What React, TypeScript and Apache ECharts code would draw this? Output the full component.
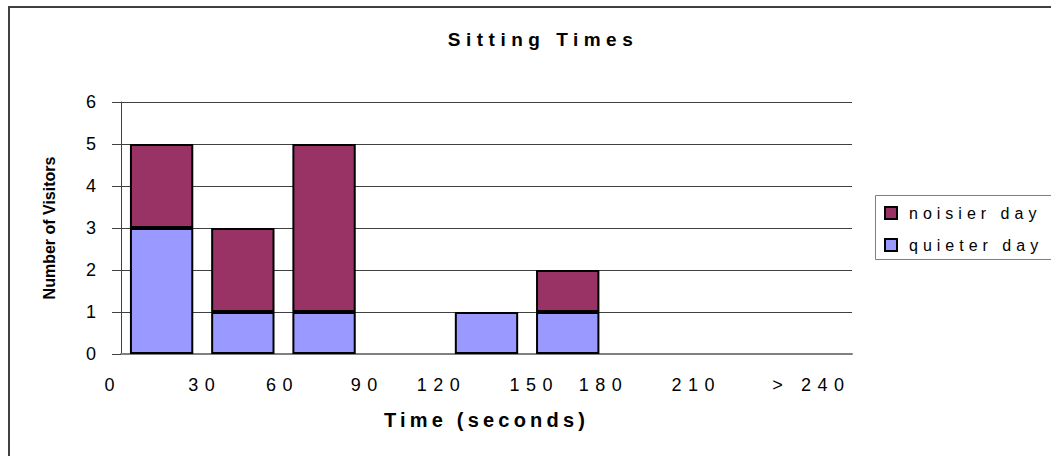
import React, { useEffect, useRef } from "react";
import * as echarts from "echarts";

// ---- data ----
const categories = ["0", "30", "60", "90", "120", "150", "180", "210", "> 240"];
const quieterDay = [3, 1, 1, 0, 1, 1, 0, 0, 0];
const noisierDay = [2, 2, 4, 0, 0, 1, 0, 0, 0];
const seriesNames = ["noisier day", "quieter day"];
const yMin = 0;
const yMax = 6;
const yInterval = 1;

// ---- style (label nudges, px to the left of category centre) ----
const labelShift = [52, 38, 41.5, 38, 45, 33.5, 45.5, 34, 0];
const FONT = '"Liberation Sans", Arial, sans-serif';
const spacing: Record<string, number> = {
  "Sitting Times": 5.5,
  "Time (seconds)": 4.2,
  "noisier day": 5,
  "quieter day": 5,
};
const tickSpacing = 6.5;

export default function App() {
  const ref = useRef<HTMLDivElement>(null);
  useEffect(() => {
    const el = ref.current!;
    const chart = echarts.init(el, undefined, { renderer: "svg" });
    const toBar = (v: number) => (v === 0 ? "-" : v);
    chart.setOption({
      animation: false,
      backgroundColor: "#fff",
      textStyle: { fontFamily: FONT },
      title: {
        text: "Sitting Times",
        left: 538,
        top: 25,
        textAlign: "center",
        textStyle: { fontSize: 19, fontWeight: "bold", color: "#000", fontFamily: FONT },
      },
      graphic: [
        {
          type: "rect",
          silent: true,
          shape: { x: 9, y: 7, width: 1200, height: 600 },
          style: { fill: "none", stroke: "#404040", lineWidth: 2 },
        },
        {
          type: "rect",
          silent: true,
          shape: { x: 875.5, y: 195.5, width: 300, height: 64 },
          style: { fill: "none", stroke: "#808080", lineWidth: 1 },
        },
      ],
      legend: {
        data: seriesNames,
        orient: "vertical",
        left: 875,
        top: 195,
        padding: [10, 20, 7, 9],
        itemGap: 16,
        itemWidth: 12,
        itemHeight: 12,
        borderWidth: 0,
        icon: "rect",
        itemStyle: { borderColor: "#000", borderWidth: 2 },
        textStyle: { fontSize: 16, color: "#000", fontFamily: FONT, padding: [0, 0, 0, 7] },
      },
      grid: { left: 121, right: 199, top: 102, bottom: 102 },
      xAxis: {
        type: "category",
        data: categories.map((c, i) => ({
          value: c,
          textStyle: { padding: [0, labelShift[i] * 2, 0, 0] },
        })),
        name: "Time (seconds)",
        nameLocation: "middle",
        nameGap: 56,
        nameTextStyle: { fontSize: 20, fontWeight: "bold", color: "#000", fontFamily: FONT },
        axisLine: { lineStyle: { color: "#808080", width: 2 } },
        axisTick: { length: 7, lineStyle: { color: "#808080", width: 1 } },
        axisLabel: { interval: 0, fontSize: 18, color: "#000", margin: 22, fontFamily: FONT },
        splitLine: { show: false },
      },
      yAxis: {
        type: "value",
        min: yMin,
        max: yMax,
        interval: yInterval,
        name: "Number of Visitors",
        nameLocation: "middle",
        nameGap: 64,
        nameTextStyle: { fontSize: 16, fontWeight: "bold", color: "#000", fontFamily: FONT },
        axisLine: { show: true, lineStyle: { color: "#404040", width: 1 } },
        axisTick: { show: true, length: 9, lineStyle: { color: "#404040", width: 1 } },
        axisLabel: { fontSize: 18, color: "#000", margin: 25, fontFamily: FONT },
        splitLine: { show: true, lineStyle: { color: "#404040", width: 1 } },
      },
      series: [
        {
          name: "quieter day",
          type: "bar",
          stack: "visitors",
          barWidth: "78%",
          data: quieterDay.map(toBar),
          itemStyle: { color: "#9999FF", borderColor: "#000", borderWidth: 2 },
        },
        {
          name: "noisier day",
          type: "bar",
          stack: "visitors",
          barWidth: "78%",
          data: noisierDay.map(toBar),
          itemStyle: { color: "#993366", borderColor: "#000", borderWidth: 2 },
        },
      ],
    });

    const applySpacing = () => {
      el.querySelectorAll("text").forEach((t) => {
        const s = (t.textContent || "").trim();
        let ls = 0;
        if (spacing[s] !== undefined) ls = spacing[s];
        else if (categories.includes(s) && s.length > 1) ls = tickSpacing;
        if (ls) t.setAttribute("letter-spacing", String(ls));
      });
    };
    chart.on("finished", applySpacing);
    requestAnimationFrame(applySpacing);
    const timer = setTimeout(applySpacing, 50);
    return () => {
      clearTimeout(timer);
      chart.dispose();
    };
  }, []);
  return (
    <div
      ref={ref}
      style={{ position: "absolute", left: 0, top: 0, width: 1051, height: 456 }}
    />
  );
}
